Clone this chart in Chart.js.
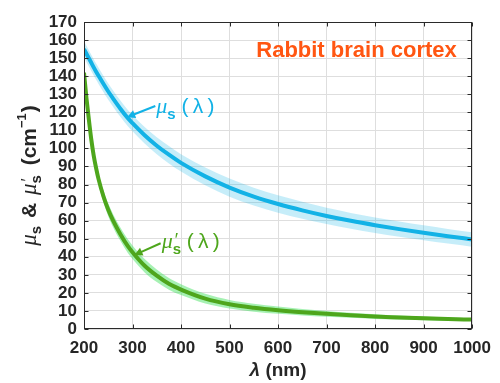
<!DOCTYPE html>
<html><head><meta charset="utf-8">
<script src="https://cdn.jsdelivr.net/npm/chart.js@4"></script>
<style>html,body{margin:0;padding:0;background:#fff}</style>
</head><body>
<canvas id="c" width="500" height="383"></canvas>
<script>
// ---- data ----
const lambdaNm = [200,205,210,215,220,225,230,240,250,260,275,290,300,325,350,375,400,450,500,550,600,650,700,750,800,850,900,950,1000];
const muS      = [155,152.4,149.9,147.4,144.9,142.5,140.2,135.8,131.5,127.6,122,116.9,114,107.3,101.5,96.5,92,84.5,78.3,73.3,69.2,65.7,62.6,59.9,57.5,55.3,53.3,51.4,49.6];
const muSBand  = [4.5,4.5,4.5,4.5,4.5,4.5,4.5,4.5,4.5,4.5,4.5,4.5,4.5,4.6,4.7,4.8,4.8,4.9,5,4.9,4.8,4.7,4.5,4.4,4.3,4.2,4.1,4,4];
const muSPrime = [142,128,116,105,96,89,83,73.5,66,60,52.5,46,42.5,35,29.5,25,21.8,16.8,13.7,11.8,10.4,9.3,8.4,7.6,6.9,6.4,5.9,5.5,5.2];
const muSPrimeBand = [1,1.5,2,2.3,2.5,2.8,3,3.3,3.5,3.6,3.7,3.8,3.8,3.7,3.5,3.2,3,2.7,2.4,2.2,2,1.8,1.6,1.4,1.3,1.1,1,0.9,0.8];
const xTickValues = [200,300,400,500,600,700,800,900,1000];
const yTickValues = [0,10,20,30,40,50,60,70,80,90,100,110,120,130,140,150,160,170];
const chartTitle = 'Rabbit brain cortex';
const xTitle = 'λ (nm)';
// annotation anchors in data units: [tip λ, tip value, tail λ, tail value]
const muSArrow = [289, 117.3, 347, 123.5];
const muSPrimeArrow = [304, 41, 358, 47.5];

const BLUE = '#12b2e6', BLUE_BAND = 'rgba(18,178,230,0.24)';
const GREEN = '#4ea61c', GREEN_BAND = 'rgba(60,225,90,0.46)';
const ORANGE = '#ff5612';
const SANS = '"Liberation Sans", Arial, sans-serif';
const SERIF = '"Liberation Serif", "Times New Roman", serif';

function pts(ys, off, sign) {
  return lambdaNm.map((x, i) => ({x, y: ys[i] + (off ? sign * off[i] : 0)}));
}
function drawRich(ctx, segs, x, y, align) {
  let w = 0;
  for (const s of segs) { ctx.font = s.font; if (!s.noAdv) w += ctx.measureText(s.t).width + (s.dx || 0); }
  if (align === 'center') x -= w / 2;
  for (const s of segs) {
    ctx.font = s.font;
    ctx.fillText(s.t, x + (s.dx || 0), y + (s.dy || 0));
    if (!s.noAdv) x += ctx.measureText(s.t).width + (s.dx || 0);
  }
}
function arrow(ctx, x, y, a, color) {
  const x1 = x.getPixelForValue(a[0]), y1 = y.getPixelForValue(a[1]);
  const x0 = x.getPixelForValue(a[2]), y0 = y.getPixelForValue(a[3]);
  const ang = Math.atan2(y1 - y0, x1 - x0), L = 8, W = 4.2;
  ctx.strokeStyle = color; ctx.fillStyle = color; ctx.lineWidth = 2;
  ctx.beginPath(); ctx.moveTo(x0, y0);
  ctx.lineTo(x1 - Math.cos(ang) * L * 0.8, y1 - Math.sin(ang) * L * 0.8); ctx.stroke();
  ctx.beginPath();
  ctx.moveTo(x1, y1);
  ctx.lineTo(x1 - Math.cos(ang) * L - Math.sin(ang) * W, y1 - Math.sin(ang) * L + Math.cos(ang) * W);
  ctx.lineTo(x1 - Math.cos(ang) * L + Math.sin(ang) * W, y1 - Math.sin(ang) * L - Math.cos(ang) * W);
  ctx.closePath(); ctx.fill();
  return [x0, y0];
}

const decor = {
  id: 'decor',
  afterDatasetsDraw(chart) {
    const {ctx, chartArea: a, scales: {x, y}} = chart;
    ctx.save();
    // box and inward ticks
    ctx.strokeStyle = '#2a2a2a'; ctx.lineWidth = 1;
    const L = Math.round(a.left) + 0.5, R = Math.round(a.right) - 0.5;
    const T = Math.round(a.top) + 0.5, B = Math.round(a.bottom) - 0.5;
    ctx.strokeRect(L, T, R - L, B - T);
    ctx.beginPath();
    for (const v of xTickValues) {
      const px = Math.round(x.getPixelForValue(v)) + 0.5;
      ctx.moveTo(px, B); ctx.lineTo(px, B - 4);
      ctx.moveTo(px, T); ctx.lineTo(px, T + 4);
    }
    for (const v of yTickValues) {
      const py = Math.round(y.getPixelForValue(v)) + 0.5;
      ctx.moveTo(L, py); ctx.lineTo(L + 4, py);
      ctx.moveTo(R, py); ctx.lineTo(R - 4, py);
    }
    ctx.stroke();

    // chart title
    ctx.fillStyle = ORANGE; ctx.font = 'bold 22px ' + SANS;
    ctx.textAlign = 'center'; ctx.textBaseline = 'alphabetic';
    ctx.fillText(chartTitle, 356.5, 57);

    // x title
    ctx.fillStyle = '#262626';
    ctx.textAlign = 'left'; ctx.textBaseline = 'middle';
    drawRich(ctx, [
      {t: 'λ', font: 'italic bold 19px ' + SANS},
      {t: ' (nm)', font: 'bold 19px ' + SANS}
    ], (a.left + a.right) / 2, 371, 'center');

    // y title (rotated)
    ctx.save();
    ctx.translate(36, (a.top + a.bottom) / 2);
    ctx.rotate(-Math.PI / 2);
    ctx.textAlign = 'left'; ctx.textBaseline = 'alphabetic'; ctx.fillStyle = '#262626';
    drawRich(ctx, [
      {t: 'μ', font: 'italic 23px ' + SERIF},
      {t: 's', font: 'bold 15px ' + SANS, dy: 5},
      {t: ' & ', font: 'bold 21px ' + SANS, dx: 2},
      {t: 'μ', font: 'italic 23px ' + SERIF, dx: 2},
      {t: '′', font: '17px ' + SANS, dy: -3, noAdv: true, dx: 2},
      {t: 's', font: 'bold 15px ' + SANS, dy: 5},
      {t: ' (cm', font: 'bold 21px ' + SANS, dx: 4},
      {t: '−1', font: 'bold 13px ' + SANS, dy: -10},
      {t: ')', font: 'bold 21px ' + SANS, dx: 1}
    ], 0, 0, 'center');
    ctx.restore();

    // annotations
    ctx.textAlign = 'left'; ctx.textBaseline = 'alphabetic';
    let [tx, ty] = arrow(ctx, x, y, muSArrow, BLUE);
    ctx.fillStyle = BLUE;
    drawRich(ctx, [
      {t: 'μ', font: 'italic 22px ' + SERIF},
      {t: 's', font: 'bold 15px ' + SANS, dy: 6},
      {t: ' (\u2009λ\u2009)', font: '21px ' + SANS}
    ], tx + 1, ty + 7);
    [tx, ty] = arrow(ctx, x, y, muSPrimeArrow, GREEN);
    ctx.fillStyle = GREEN;
    drawRich(ctx, [
      {t: 'μ', font: 'italic 22px ' + SERIF},
      {t: '′', font: '18px ' + SANS, dy: -2, noAdv: true, dx: 2},
      {t: 's', font: 'bold 15px ' + SANS, dy: 6},
      {t: ' (\u2009λ\u2009)', font: '21px ' + SANS}
    ], tx + 1, ty + 5);
    ctx.restore();
  }
};

const common = {pointRadius: 0, cubicInterpolationMode: 'monotone', borderColor: 'rgba(0,0,0,0)', borderWidth: 0};
new Chart(document.getElementById('c'), {
  type: 'line',
  data: {
    datasets: [
      {...common, label: 'mu_s', data: pts(muS), borderColor: BLUE, borderWidth: 4, fill: false, order: 0},
      {...common, label: "mu_s'", data: pts(muSPrime), borderColor: GREEN, borderWidth: 4, fill: false, order: 0},
      {...common, data: pts(muS, muSBand, 1), backgroundColor: BLUE_BAND, fill: 3, order: 1},
      {...common, data: pts(muS, muSBand, -1), fill: false, order: 1},
      {...common, data: pts(muSPrime, muSPrimeBand, 1), backgroundColor: GREEN_BAND, fill: 5, order: 1},
      {...common, data: pts(muSPrime, muSPrimeBand, -1), fill: false, order: 1}
    ]
  },
  options: {
    responsive: false, animation: false, devicePixelRatio: 1,
    layout: {padding: {left: 0, right: 20, top: 22, bottom: 0}},
    plugins: {legend: {display: false}, tooltip: {enabled: false}},
    scales: {
      x: {
        type: 'linear', min: 200, max: 1000,
        afterBuildTicks: s => { s.ticks = xTickValues.map(v => ({value: v})); },
        afterFit: s => { s.height = 54; },
        ticks: {font: {family: SANS, size: 17, weight: 'bold'}, color: '#262626', padding: 9, maxRotation: 0, autoSkip: false, callback: v => String(v)},
        grid: {color: '#dedede', drawTicks: false},
        border: {display: false}
      },
      y: {
        type: 'linear', min: 0, max: 170,
        afterBuildTicks: s => { s.ticks = yTickValues.map(v => ({value: v})); },
        afterFit: s => { s.width = 84; },
        ticks: {font: {family: SANS, size: 17, weight: 'bold'}, color: '#262626', padding: 7, autoSkip: false, callback: v => String(v)},
        grid: {color: '#dedede', drawTicks: false},
        border: {display: false}
      }
    }
  },
  plugins: [decor]
});
</script>
</body></html>
